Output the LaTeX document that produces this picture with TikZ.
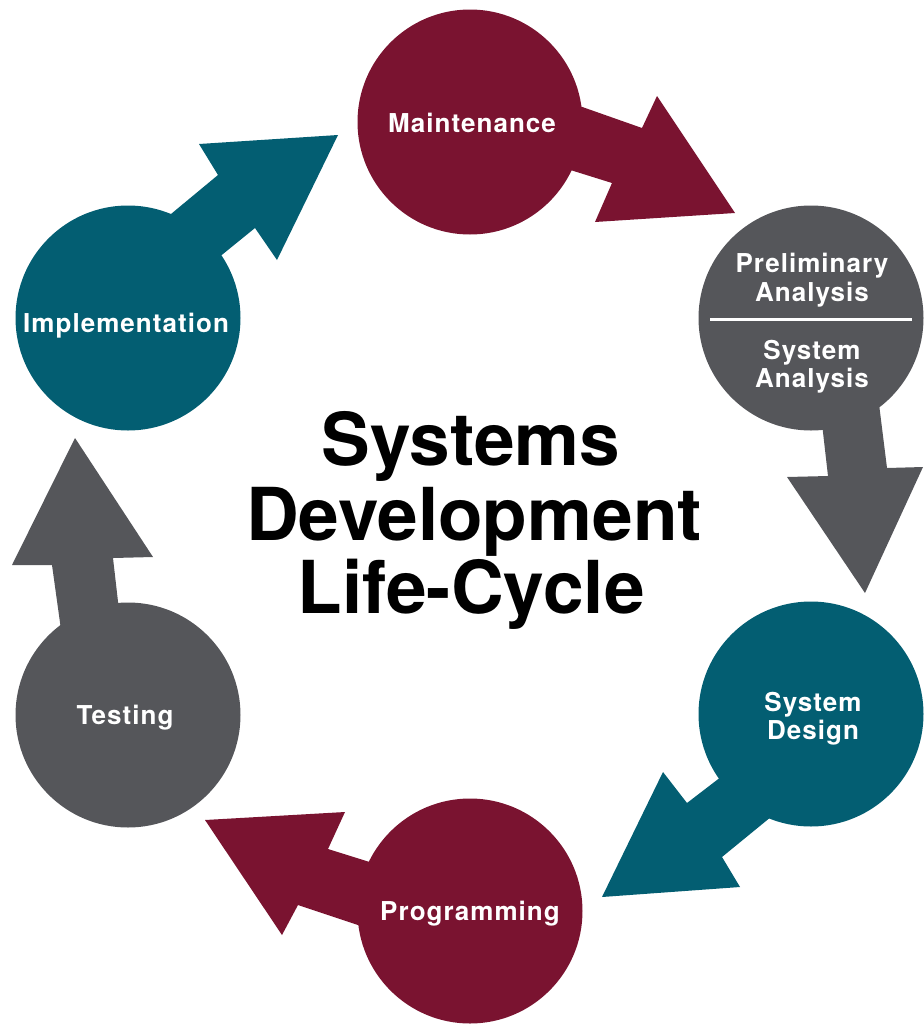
\documentclass[tikz,border=0pt]{standalone}
\usepackage{fontspec}
\setmainfont{TeX Gyre Heros}
\newfontfamily\stagefont[LetterSpace=4]{TeX Gyre Heros}
\usetikzlibrary{calc}
\definecolor{sdlcred}{HTML}{7A1330}
\definecolor{sdlcteal}{HTML}{035E72}
\definecolor{sdlcgray}{HTML}{55565A}
\tikzset{
  stage/.style={circle, minimum size=168.75pt, inner sep=0pt, fill=#1},
  stagetext/.style={anchor=base, text=white, inner sep=0pt,
    font=\stagefont\bfseries\fontsize{19.5pt}{21pt}\selectfont},
  titletext/.style={anchor=base, text=black, inner sep=0pt,
    font=\bfseries\fontsize{54.75pt}{56pt}\selectfont},
  divider/.style={draw=white, line width=2.25pt},
}
\begin{document}
\begin{tikzpicture}[x=0.75pt,y=-0.75pt]
\useasboundingbox (0,0) rectangle (924,1025);
% stages
\node[stage=sdlcred]  (maint)  at (470,122) {};
\node[stage=sdlcgray] (prelim) at (811,318) {};
\node[stage=sdlcteal] (design) at (811,714) {};
\node[stage=sdlcred]  (prog)   at (470,911) {};
\node[stage=sdlcgray] (test)   at (128,715) {};
\node[stage=sdlcteal] (impl)   at (128,318) {};
% arrows
\fill[sdlcred] ($(maint)+(30,-44)$) -- (642,128) -- (657,96) -- (735,213) -- (595,222) -- (612,183) -- ($(maint)+(30,26)$) -- cycle;
\fill[sdlcgray] ($(prelim)+(6,62)$) -- (828,476) -- (787,477) -- (865,593) -- (923,467) -- (887,468) -- ($(prelim)+(65,62)$) -- cycle;
\fill[sdlcteal] ($(design)+(-51,33)$) -- (687,803) -- (663,772) -- (602,897) -- (740,887) -- (722,857) -- ($(design)+(-1,71)$) -- cycle;
\fill[sdlcred] ($(prog)+(-30,-27)$) -- (328,849) -- (345,812) -- (205,820) -- (282,935) -- (298,905) -- ($(prog)+(-40,38)$) -- cycle;
\fill[sdlcgray] ($(test)+(-60,-35)$) -- (52,565) -- (12,565) -- (75,438) -- (153,557) -- (113,558) -- ($(test)+(-1,-35)$) -- cycle;
\fill[sdlcteal] ($(impl)+(2,-70)$) -- (218,175) -- (199,144) -- (338,135) -- (277,260) -- (255,228) -- ($(impl)+(42,-21)$) -- cycle;
% divider in preliminary circle
\draw[divider] ($(prelim.center)+(-101,1)$) -- ($(prelim.center)+(101,1)$);
% stage labels
\node[stagetext] (maintL)   at (472,132) {Maintenance};
\node[stagetext] (prelimL1) at (812,272) {Preliminary};
\node[stagetext] (prelimL2) at (812,301) {Analysis};
\node[stagetext] (prelimL3) at (812,359) {System};
\node[stagetext] (prelimL4) at (812,387) {Analysis};
\node[stagetext] (designL1) at (813,711) {System};
\node[stagetext] (designL2) at (813,739) {Design};
\node[stagetext] (progL)    at (470,920) {Programming};
\node[stagetext] (testL)    at (125,724) {Testing};
\node[stagetext] (implL)    at (126,332) {Implementation};
% title
\node[titletext] (title1) at (471,465) {Systems};
\node[titletext] (title2) at (474,540) {Development};
\node[titletext] (title3) at (471,613) {Life-Cycle};
\end{tikzpicture}
\end{document}
